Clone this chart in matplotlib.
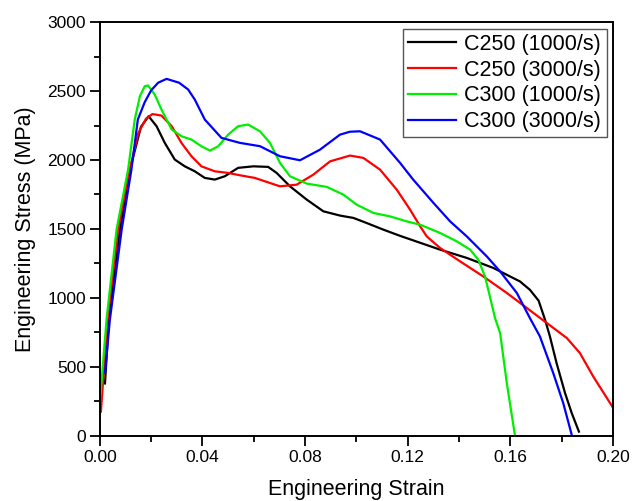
import numpy as np
import matplotlib
matplotlib.use('Agg')
import matplotlib.pyplot as plt
from matplotlib.ticker import MultipleLocator

plt.rcParams['font.family'] = ['Liberation Sans', 'DejaVu Sans']

# C250 (1000/s)
c250_1000_strain = [0.002, 0.0035, 0.0078, 0.012, 0.016, 0.019, 0.0221, 0.0253, 0.0292, 0.0331,
                    0.037, 0.0409, 0.0448, 0.0487, 0.0539, 0.0598, 0.0656, 0.0689, 0.0741, 0.0806,
                    0.0871, 0.0936, 0.0988, 0.104, 0.1105, 0.117, 0.1248, 0.1326, 0.143, 0.1534,
                    0.1611, 0.1637, 0.1676, 0.171, 0.1735, 0.1754, 0.178, 0.1813, 0.1839, 0.1867]
c250_1000_stress = [380, 842, 1495, 1950, 2240, 2317, 2245, 2124, 2003, 1954,
                    1918, 1870, 1858, 1882, 1943, 1954, 1950, 1906, 1809, 1713,
                    1628, 1597, 1580, 1543, 1495, 1450, 1400, 1350, 1290, 1217,
                    1144, 1120, 1059, 980, 842, 721, 527, 310, 165, 31]

# C250 (3000/s)
c250_3000_strain = [0.0004, 0.003, 0.0071, 0.011, 0.015, 0.018, 0.0205, 0.024, 0.028, 0.0318,
                    0.0357, 0.0396, 0.0448, 0.05, 0.0552, 0.0604, 0.0702, 0.0767, 0.0832, 0.0897,
                    0.0975, 0.1027, 0.1092, 0.1157, 0.1209, 0.1248, 0.1274, 0.1326, 0.1404, 0.1494,
                    0.1586, 0.1664, 0.1742, 0.182, 0.1871, 0.1923, 0.2001]
c250_3000_stress = [176, 842, 1495, 1880, 2196, 2300, 2333, 2322, 2245, 2124,
                    2027, 1954, 1918, 1906, 1887, 1870, 1809, 1821, 1894, 1990,
                    2032, 2015, 1930, 1785, 1640, 1520, 1446, 1362, 1265, 1156,
                    1036, 927, 818, 709, 600, 430, 201]

# C300 (1000/s)
c300_1000_strain = [0.0, 0.0026, 0.0065, 0.011, 0.0136, 0.0156, 0.0175, 0.0188, 0.0214, 0.024,
                    0.028, 0.0318, 0.0357, 0.0396, 0.0429, 0.0461, 0.05, 0.0539, 0.0578, 0.0624,
                    0.0663, 0.0702, 0.0741, 0.0806, 0.0884, 0.0949, 0.1001, 0.1066, 0.1131, 0.1196,
                    0.1248, 0.1326, 0.1391, 0.1443, 0.1475, 0.1501, 0.152, 0.154, 0.156, 0.1586,
                    0.1618]
c300_1000_stress = [240, 842, 1495, 1930, 2293, 2462, 2535, 2540, 2474, 2366,
                    2221, 2172, 2148, 2099, 2068, 2099, 2184, 2245, 2257, 2208,
                    2124, 1979, 1882, 1829, 1805, 1749, 1676, 1616, 1591, 1555,
                    1531, 1471, 1410, 1350, 1277, 1156, 1011, 854, 745, 382,
                    0]

# C300 (3000/s)
c300_3000_strain = [0.002, 0.0039, 0.0085, 0.0123, 0.0148, 0.0175, 0.02, 0.0227, 0.026, 0.0309,
                    0.0344, 0.037, 0.0409, 0.0474, 0.0546, 0.0624, 0.0702, 0.078, 0.0858, 0.0936,
                    0.0975, 0.1014, 0.1092, 0.117, 0.1221, 0.13, 0.1365, 0.143, 0.1508, 0.156,
                    0.1625, 0.1676, 0.1715, 0.1767, 0.1806, 0.1839]
c300_3000_stress = [457, 842, 1495, 1930, 2293, 2420, 2505, 2560, 2588, 2560,
                    2511, 2438, 2293, 2160, 2124, 2100, 2027, 1998, 2075, 2184,
                    2205, 2208, 2148, 1979, 1858, 1689, 1555, 1446, 1301, 1192,
                    1036, 854, 721, 455, 237, 7]

labels = ['C250 (1000/s)', 'C250 (3000/s)', 'C300 (1000/s)', 'C300 (3000/s)']
colours = ['#000000', '#ff0000', '#00ee00', '#0000ff']
series = [(c250_1000_strain, c250_1000_stress),
          (c250_3000_strain, c250_3000_stress),
          (c300_1000_strain, c300_1000_stress),
          (c300_3000_strain, c300_3000_stress)]

fig = plt.figure(figsize=(6.32, 5.01), dpi=100)
ax = fig.add_axes([0.158, 0.130, 0.812, 0.826])

for (x, y), lab, col in zip(series, labels, colours):
    ax.plot(x, y, color=col, lw=1.6, label=lab)

ax.set_xlim(0, 0.20)
ax.set_ylim(0, 3000)
ax.xaxis.set_major_locator(MultipleLocator(0.04))
ax.xaxis.set_minor_locator(MultipleLocator(0.02))
ax.yaxis.set_major_locator(MultipleLocator(500))
ax.yaxis.set_minor_locator(MultipleLocator(250))
ax.xaxis.set_major_formatter(plt.FuncFormatter(lambda v, p: '%.2f' % v))
ax.tick_params(which='major', direction='out', length=7, width=1.3, labelsize=12.5, pad=3)
ax.tick_params(which='minor', direction='out', length=4, width=1.3)
ax.tick_params(top=False, right=False, which='both')
for s in ax.spines.values():
    s.set_linewidth(1.4)

ax.set_xlabel('Engineering Strain', fontsize=15.5, labelpad=10)
ax.set_ylabel('Engineering Stress (MPa)', fontsize=15.5, labelpad=8)

leg = ax.legend(loc='upper right', fontsize=15.5, fancybox=False, framealpha=1,
                edgecolor='#555555', borderaxespad=0.3, handlelength=2.2,
                handletextpad=0.4, labelspacing=0.22, borderpad=0.25)
leg.get_frame().set_linewidth(1.0)

fig.savefig('out.png', dpi=100)
